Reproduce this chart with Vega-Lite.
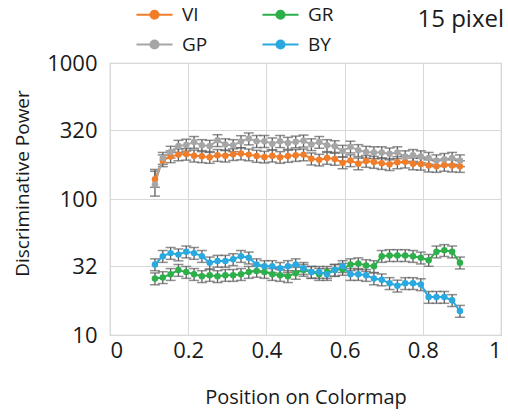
{
  "$schema": "https://vega.github.io/schema/vega-lite/v6.json",
  "width": 391,
  "height": 272,
  "autosize": {"type": "none"},
  "padding": {"left": 110, "top": 63, "right": 7, "bottom": 81},
  "background": "white",
  "config": {
    "font": "Open Sans",
    "view": {"stroke": "#c8c8c8", "strokeWidth": 1.2},
    "axis": {
      "domain": false,
      "ticks": false,
      "grid": true,
      "gridColor": "#d9d9d9",
      "gridWidth": 1,
      "labelFontSize": 22,
      "labelColor": "#1a1a1a",
      "titleFontSize": 19,
      "titleFontWeight": "normal",
      "titleColor": "#1a1a1a"
    }
  },
  "title": {
    "text": "15 pixel",
    "anchor": "end",
    "orient": "top",
    "fontSize": 24,
    "fontWeight": "normal",
    "color": "#1a1a1a",
    "offset": -37,
    "dx": 3
  },
  "data": {
    "values": [
      {"s":"VI","x":0.115,"v":140,"lo":122,"hi":160},
      {"s":"VI","x":0.135,"v":192,"lo":173,"hi":211},
      {"s":"VI","x":0.155,"v":205,"lo":185,"hi":226},
      {"s":"VI","x":0.175,"v":212,"lo":191,"hi":233},
      {"s":"VI","x":0.195,"v":214,"lo":193,"hi":235},
      {"s":"VI","x":0.215,"v":208,"lo":187,"hi":229},
      {"s":"VI","x":0.235,"v":206,"lo":185,"hi":227},
      {"s":"VI","x":0.255,"v":203,"lo":183,"hi":223},
      {"s":"VI","x":0.275,"v":210,"lo":189,"hi":231},
      {"s":"VI","x":0.295,"v":208,"lo":187,"hi":229},
      {"s":"VI","x":0.315,"v":213,"lo":192,"hi":234},
      {"s":"VI","x":0.335,"v":216,"lo":194,"hi":238},
      {"s":"VI","x":0.355,"v":212,"lo":191,"hi":233},
      {"s":"VI","x":0.375,"v":207,"lo":186,"hi":228},
      {"s":"VI","x":0.395,"v":204,"lo":184,"hi":224},
      {"s":"VI","x":0.415,"v":208,"lo":187,"hi":229},
      {"s":"VI","x":0.435,"v":203,"lo":183,"hi":223},
      {"s":"VI","x":0.455,"v":207,"lo":186,"hi":228},
      {"s":"VI","x":0.475,"v":210,"lo":189,"hi":231},
      {"s":"VI","x":0.495,"v":212,"lo":191,"hi":233},
      {"s":"VI","x":0.515,"v":198,"lo":178,"hi":218},
      {"s":"VI","x":0.535,"v":194,"lo":175,"hi":213},
      {"s":"VI","x":0.555,"v":200,"lo":180,"hi":220},
      {"s":"VI","x":0.575,"v":197,"lo":177,"hi":217},
      {"s":"VI","x":0.595,"v":185,"lo":167,"hi":204},
      {"s":"VI","x":0.615,"v":192,"lo":173,"hi":211},
      {"s":"VI","x":0.635,"v":182,"lo":164,"hi":200},
      {"s":"VI","x":0.655,"v":190,"lo":171,"hi":209},
      {"s":"VI","x":0.675,"v":187,"lo":168,"hi":206},
      {"s":"VI","x":0.695,"v":183,"lo":165,"hi":201},
      {"s":"VI","x":0.715,"v":180,"lo":162,"hi":198},
      {"s":"VI","x":0.735,"v":186,"lo":167,"hi":205},
      {"s":"VI","x":0.755,"v":188,"lo":169,"hi":207},
      {"s":"VI","x":0.775,"v":182,"lo":164,"hi":200},
      {"s":"VI","x":0.795,"v":181,"lo":163,"hi":199},
      {"s":"VI","x":0.815,"v":176,"lo":158,"hi":194},
      {"s":"VI","x":0.835,"v":174,"lo":157,"hi":191},
      {"s":"VI","x":0.855,"v":178,"lo":160,"hi":196},
      {"s":"VI","x":0.875,"v":176,"lo":158,"hi":194},
      {"s":"VI","x":0.895,"v":174,"lo":157,"hi":191},

      {"s":"GP","x":0.115,"v":128,"lo":105,"hi":165},
      {"s":"GP","x":0.135,"v":200,"lo":180,"hi":220},
      {"s":"GP","x":0.155,"v":222,"lo":200,"hi":244},
      {"s":"GP","x":0.175,"v":245,"lo":220,"hi":270},
      {"s":"GP","x":0.195,"v":250,"lo":225,"hi":275},
      {"s":"GP","x":0.215,"v":262,"lo":236,"hi":288},
      {"s":"GP","x":0.235,"v":248,"lo":223,"hi":273},
      {"s":"GP","x":0.255,"v":245,"lo":220,"hi":270},
      {"s":"GP","x":0.275,"v":270,"lo":243,"hi":297},
      {"s":"GP","x":0.295,"v":252,"lo":227,"hi":277},
      {"s":"GP","x":0.315,"v":248,"lo":223,"hi":273},
      {"s":"GP","x":0.335,"v":265,"lo":238,"hi":292},
      {"s":"GP","x":0.355,"v":278,"lo":250,"hi":306},
      {"s":"GP","x":0.375,"v":266,"lo":239,"hi":293},
      {"s":"GP","x":0.395,"v":266,"lo":239,"hi":293},
      {"s":"GP","x":0.415,"v":255,"lo":230,"hi":281},
      {"s":"GP","x":0.435,"v":266,"lo":239,"hi":293},
      {"s":"GP","x":0.455,"v":258,"lo":232,"hi":284},
      {"s":"GP","x":0.475,"v":264,"lo":238,"hi":290},
      {"s":"GP","x":0.495,"v":268,"lo":241,"hi":295},
      {"s":"GP","x":0.515,"v":252,"lo":227,"hi":277},
      {"s":"GP","x":0.535,"v":262,"lo":236,"hi":288},
      {"s":"GP","x":0.555,"v":248,"lo":223,"hi":273},
      {"s":"GP","x":0.575,"v":244,"lo":220,"hi":268},
      {"s":"GP","x":0.595,"v":225,"lo":203,"hi":248},
      {"s":"GP","x":0.615,"v":242,"lo":218,"hi":266},
      {"s":"GP","x":0.635,"v":228,"lo":205,"hi":251},
      {"s":"GP","x":0.655,"v":222,"lo":200,"hi":244},
      {"s":"GP","x":0.675,"v":220,"lo":198,"hi":242},
      {"s":"GP","x":0.695,"v":220,"lo":198,"hi":242},
      {"s":"GP","x":0.715,"v":215,"lo":194,"hi":237},
      {"s":"GP","x":0.735,"v":220,"lo":198,"hi":242},
      {"s":"GP","x":0.755,"v":205,"lo":185,"hi":226},
      {"s":"GP","x":0.775,"v":210,"lo":189,"hi":231},
      {"s":"GP","x":0.795,"v":205,"lo":185,"hi":226},
      {"s":"GP","x":0.815,"v":200,"lo":180,"hi":220},
      {"s":"GP","x":0.835,"v":192,"lo":173,"hi":211},
      {"s":"GP","x":0.855,"v":196,"lo":176,"hi":216},
      {"s":"GP","x":0.875,"v":200,"lo":180,"hi":220},
      {"s":"GP","x":0.895,"v":192,"lo":173,"hi":211},

      {"s":"GR","x":0.115,"v":26,"lo":23.4,"hi":28.6},
      {"s":"GR","x":0.135,"v":26.5,"lo":23.9,"hi":29.2},
      {"s":"GR","x":0.155,"v":28,"lo":25.2,"hi":30.8},
      {"s":"GR","x":0.175,"v":30,"lo":27,"hi":33},
      {"s":"GR","x":0.195,"v":29,"lo":26.1,"hi":31.9},
      {"s":"GR","x":0.215,"v":28,"lo":25.2,"hi":30.8},
      {"s":"GR","x":0.235,"v":27,"lo":24.3,"hi":29.7},
      {"s":"GR","x":0.255,"v":27.5,"lo":24.8,"hi":30.3},
      {"s":"GR","x":0.275,"v":27,"lo":24.3,"hi":29.7},
      {"s":"GR","x":0.295,"v":27.5,"lo":24.8,"hi":30.3},
      {"s":"GR","x":0.315,"v":27.5,"lo":24.8,"hi":30.3},
      {"s":"GR","x":0.335,"v":28,"lo":25.2,"hi":30.8},
      {"s":"GR","x":0.355,"v":29,"lo":26.1,"hi":31.9},
      {"s":"GR","x":0.375,"v":29.5,"lo":26.6,"hi":32.5},
      {"s":"GR","x":0.395,"v":29,"lo":26.1,"hi":31.9},
      {"s":"GR","x":0.415,"v":28,"lo":25.2,"hi":30.8},
      {"s":"GR","x":0.435,"v":27.5,"lo":24.8,"hi":30.3},
      {"s":"GR","x":0.455,"v":27,"lo":24.3,"hi":29.7},
      {"s":"GR","x":0.475,"v":28.5,"lo":25.7,"hi":31.4},
      {"s":"GR","x":0.495,"v":30,"lo":27,"hi":33},
      {"s":"GR","x":0.515,"v":29,"lo":26.1,"hi":31.9},
      {"s":"GR","x":0.535,"v":28,"lo":25.2,"hi":30.8},
      {"s":"GR","x":0.555,"v":29,"lo":26.1,"hi":31.9},
      {"s":"GR","x":0.575,"v":30,"lo":27,"hi":33},
      {"s":"GR","x":0.595,"v":30.5,"lo":27.5,"hi":33.6},
      {"s":"GR","x":0.615,"v":33,"lo":29.7,"hi":36.3},
      {"s":"GR","x":0.635,"v":33.5,"lo":30.2,"hi":36.9},
      {"s":"GR","x":0.655,"v":32.5,"lo":29.3,"hi":35.8},
      {"s":"GR","x":0.675,"v":32,"lo":28.8,"hi":35.2},
      {"s":"GR","x":0.695,"v":38,"lo":34.2,"hi":41.8},
      {"s":"GR","x":0.715,"v":38.5,"lo":34.7,"hi":42.4},
      {"s":"GR","x":0.735,"v":38.5,"lo":34.7,"hi":42.4},
      {"s":"GR","x":0.755,"v":38.5,"lo":34.7,"hi":42.4},
      {"s":"GR","x":0.775,"v":38,"lo":34.2,"hi":41.8},
      {"s":"GR","x":0.795,"v":37,"lo":33.3,"hi":40.7},
      {"s":"GR","x":0.815,"v":35.5,"lo":32,"hi":39.1},
      {"s":"GR","x":0.835,"v":41,"lo":36.9,"hi":45.1},
      {"s":"GR","x":0.855,"v":42,"lo":37.8,"hi":46.2},
      {"s":"GR","x":0.875,"v":41,"lo":36.9,"hi":45.1},
      {"s":"GR","x":0.895,"v":34,"lo":30.6,"hi":37.4},

      {"s":"BY","x":0.115,"v":33,"lo":29.7,"hi":36.3},
      {"s":"BY","x":0.135,"v":38,"lo":34.2,"hi":41.8},
      {"s":"BY","x":0.155,"v":40,"lo":36,"hi":44},
      {"s":"BY","x":0.175,"v":39,"lo":35.1,"hi":42.9},
      {"s":"BY","x":0.195,"v":41,"lo":36.9,"hi":45.1},
      {"s":"BY","x":0.215,"v":40,"lo":36,"hi":44},
      {"s":"BY","x":0.235,"v":38,"lo":34.2,"hi":41.8},
      {"s":"BY","x":0.255,"v":34,"lo":30.6,"hi":37.4},
      {"s":"BY","x":0.275,"v":35,"lo":31.5,"hi":38.5},
      {"s":"BY","x":0.295,"v":35,"lo":31.5,"hi":38.5},
      {"s":"BY","x":0.315,"v":36,"lo":32.4,"hi":39.6},
      {"s":"BY","x":0.335,"v":38,"lo":34.2,"hi":41.8},
      {"s":"BY","x":0.355,"v":37,"lo":33.3,"hi":40.7},
      {"s":"BY","x":0.375,"v":33,"lo":29.7,"hi":36.3},
      {"s":"BY","x":0.395,"v":32,"lo":28.8,"hi":35.2},
      {"s":"BY","x":0.415,"v":32,"lo":28.8,"hi":35.2},
      {"s":"BY","x":0.435,"v":31,"lo":27.9,"hi":34.1},
      {"s":"BY","x":0.455,"v":32,"lo":28.8,"hi":35.2},
      {"s":"BY","x":0.475,"v":33,"lo":29.7,"hi":36.3},
      {"s":"BY","x":0.495,"v":31,"lo":27.9,"hi":34.1},
      {"s":"BY","x":0.515,"v":29,"lo":26.1,"hi":31.9},
      {"s":"BY","x":0.535,"v":29,"lo":26.1,"hi":31.9},
      {"s":"BY","x":0.555,"v":28,"lo":25.2,"hi":30.8},
      {"s":"BY","x":0.575,"v":30,"lo":27,"hi":33},
      {"s":"BY","x":0.595,"v":32,"lo":28.8,"hi":35.2},
      {"s":"BY","x":0.615,"v":28,"lo":25.2,"hi":30.8},
      {"s":"BY","x":0.635,"v":28,"lo":25.2,"hi":30.8},
      {"s":"BY","x":0.655,"v":27.5,"lo":24.8,"hi":30.3},
      {"s":"BY","x":0.675,"v":26,"lo":23.4,"hi":28.6},
      {"s":"BY","x":0.695,"v":25.5,"lo":23,"hi":28.1},
      {"s":"BY","x":0.715,"v":24,"lo":21.6,"hi":26.4},
      {"s":"BY","x":0.735,"v":23,"lo":20.7,"hi":25.3},
      {"s":"BY","x":0.755,"v":24,"lo":21.6,"hi":26.4},
      {"s":"BY","x":0.775,"v":24,"lo":21.6,"hi":26.4},
      {"s":"BY","x":0.795,"v":23.5,"lo":21.2,"hi":25.9},
      {"s":"BY","x":0.815,"v":19,"lo":17.1,"hi":20.9},
      {"s":"BY","x":0.835,"v":19,"lo":17.1,"hi":20.9},
      {"s":"BY","x":0.855,"v":19,"lo":17.1,"hi":20.9},
      {"s":"BY","x":0.875,"v":18,"lo":16.2,"hi":19.8},
      {"s":"BY","x":0.895,"v":15,"lo":13.5,"hi":16.5}
    ]
  },
  "encoding": {
    "x": {
      "field": "x",
      "type": "quantitative",
      "scale": {"domain": [0, 1], "nice": false},
      "axis": {
        "values": [0, 0.2, 0.4, 0.6, 0.8, 1],
        "format": "~g",
        "title": "Position on Colormap",
        "titleFontSize": 20,
        "labelPadding": 5,
        "titlePadding": 26
      }
    }
  },
  "layer": [
    {
      "mark": {"type": "rule", "color": "#5e5e5e", "strokeWidth": 1.3},
      "encoding": {
        "y": {"field": "lo", "type": "quantitative", "scale": {"type": "log", "domain": [10, 1000], "nice": false}},
        "y2": {"field": "hi"}
      }
    },
    {
      "mark": {"type": "tick", "orient": "horizontal", "color": "#5e5e5e", "size": 10, "thickness": 1.5},
      "encoding": {"y": {"field": "lo", "type": "quantitative"}}
    },
    {
      "mark": {"type": "tick", "orient": "horizontal", "color": "#5e5e5e", "size": 10, "thickness": 1.5},
      "encoding": {"y": {"field": "hi", "type": "quantitative"}}
    },
    {
      "mark": {"type": "line", "strokeWidth": 2},
      "encoding": {
        "y": {"field": "v", "type": "quantitative"},
        "color": {"field": "s", "type": "nominal"}
      }
    },
    {
      "mark": {"type": "point", "filled": true, "opacity": 1, "size": 42},
      "encoding": {
        "y": {
          "field": "v",
          "type": "quantitative",
          "scale": {"type": "log", "domain": [10, 1000], "nice": false},
          "axis": {
            "values": [10, 32, 100, 320, 1000],
            "format": "d",
            "title": "Discriminative Power",
            "labelPadding": 13,
            "titlePadding": 14,
            "titleY": 120
          }
        },
        "color": {
          "field": "s",
          "type": "nominal",
          "scale": {
            "domain": ["VI", "GR", "GP", "BY"],
            "range": ["#F07D2A", "#2DAF4A", "#A6A6A6", "#2AA9E0"]
          },
          "legend": {
            "title": null,
            "orient": "none",
            "legendX": 25,
            "legendY": -68,
            "direction": "horizontal",
            "columns": 2,
            "columnPadding": 50,
            "rowPadding": -16,
            "symbolType": "M-1,0H1M-0.22,0A0.22,0.22 0 1,0 0.22,0A0.22,0.22 0 1,0 -0.22,0",
            "symbolSize": 1300,
            "symbolStrokeWidth": 2.2,
            "labelFontSize": 19,
            "labelColor": "#1a1a1a",
            "labelOffset": 8,
            "encode": {
              "symbols": {
                "update": {
                  "fill": {"scale": "color", "field": "value"},
                  "stroke": {"scale": "color", "field": "value"}
                }
              }
            }
          }
        }
      }
    }
  ]
}
